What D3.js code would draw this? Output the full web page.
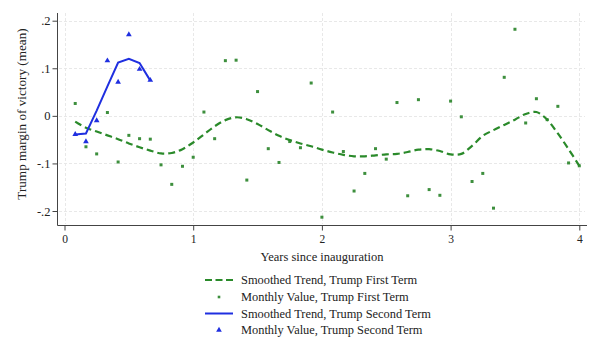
<!DOCTYPE html>
<html><head><meta charset="utf-8">
<script src="https://cdn.jsdelivr.net/npm/d3@7"></script>
<style>body{margin:0;background:#fff} svg text{font-family:"Times New Roman","Liberation Serif","DejaVu Serif",serif !important}</style>
</head><body><svg id="c" width="600" height="360"></svg>
<script>
// months since inauguration (1 month = 1/12 year)
const firstMonths = [1,2,3,4,5,6,7,8,9,10,11,12,13,14,15,16,17,18,19,20,21,22,23,24,25,26,27,28,29,30,31,32,33,34,35,36,37,38,39,40,41,42,43,44,45,46,47,48];
const firstValues = [0.026,-0.065,-0.080,0.007,-0.097,-0.041,-0.048,-0.049,-0.103,-0.144,-0.106,-0.087,0.008,-0.048,0.116,0.117,-0.135,0.051,-0.069,-0.098,-0.054,-0.067,0.069,-0.213,0.008,-0.075,-0.158,-0.121,-0.069,-0.091,0.028,-0.168,0.034,-0.155,-0.167,0.031,-0.002,-0.138,-0.121,-0.194,0.081,0.182,-0.015,0.036,-0.008,0.020,-0.099,-0.105];
const firstTrend = [-0.012,-0.025,-0.033,-0.041,-0.049,-0.058,-0.066,-0.073,-0.079,-0.078,-0.070,-0.056,-0.039,-0.022,-0.009,-0.003,-0.007,-0.017,-0.030,-0.042,-0.051,-0.058,-0.064,-0.071,-0.077,-0.082,-0.085,-0.085,-0.083,-0.081,-0.080,-0.076,-0.071,-0.070,-0.074,-0.081,-0.080,-0.063,-0.042,-0.030,-0.019,-0.008,0.004,0.008,-0.008,-0.037,-0.070,-0.105];
const secondMonths = [1,2,3,4,5,6,7,8];
const secondValues = [-0.039,-0.054,-0.010,0.116,0.071,0.171,0.098,0.075];
const secondTrend = [-0.039,-0.037,0.011,0.062,0.112,0.120,0.111,0.074];
const xTickMonths = [0,12,24,36,48];
const xTickLabels = ["0","1","2","3","4"];
const yTicks = [-0.2,-0.1,0,0.1,0.2];
const yTickLabels = ["-.2","-.1","0",".1",".2"];
const legendLabels = ["Smoothed Trend, Trump First Term","Monthly Value, Trump First Term","Smoothed Trend, Trump Second Term","Monthly Value, Trump Second Term"];

const green = "#2a8a2a", blue = "#1f2fe0", ptGreen = "#3d8f3d";
const svg = d3.select("#c");
const x = d3.scaleLinear().domain([0,48]).range([64.5,579.3]);
const y = d3.scaleLinear().domain([-0.2,0.2]).range([211,20.7]);

// grid
const grid = svg.append("g").attr("stroke","#e8e8e8").attr("stroke-width",1).attr("stroke-dasharray","3,2");
grid.selectAll("line.h").data(yTicks).join("line").attr("x1",59).attr("x2",585)
  .attr("y1",d=>Math.round(y(d))+0.5).attr("y2",d=>Math.round(y(d))+0.5);
grid.selectAll("line.v").data(xTickMonths).join("line").attr("y1",13).attr("y2",224)
  .attr("x1",d=>Math.round(x(d))+0.5).attr("x2",d=>Math.round(x(d))+0.5);

// axes
const yAxis = d3.axisLeft(y).tickValues(yTicks).tickFormat((d,i)=>yTickLabels[i]).tickSize(5).tickSizeOuter(0);
const gy = svg.append("g").attr("transform","translate(57.5,0)").call(yAxis);
gy.attr("font-family",null);
gy.select(".domain").attr("d","M0,13V225.5").attr("stroke","#444");
gy.selectAll(".tick line").attr("stroke","#444");
gy.selectAll("text").attr("font-size",12.5).attr("fill","#222").attr("x",-7);

const xAxis = d3.axisBottom(x).tickValues(xTickMonths).tickFormat((d,i)=>xTickLabels[i]).tickSize(5).tickSizeOuter(0);
const gx = svg.append("g").attr("transform","translate(0,225.5)").call(xAxis);
gx.attr("font-family",null);
gx.select(".domain").attr("d","M57.5,0H587").attr("stroke","#444");
gx.selectAll(".tick line").attr("stroke","#444");
gx.selectAll("text").attr("font-size",11.5).attr("fill","#222").attr("y",9);

svg.append("text").attr("x",322).attr("y",261).attr("text-anchor","middle").attr("font-size",12.5).attr("fill","#222").text("Years since inauguration");
svg.append("text").attr("transform","translate(26,114) rotate(-90)").attr("text-anchor","middle").attr("font-size",13.2).attr("fill","#222").text("Trump margin of victory (mean)");

const line = d3.line().curve(d3.curveCatmullRom.alpha(0.5));
// first term
svg.append("g").selectAll("rect").data(firstMonths).join("rect")
  .attr("x",(d,i)=>x(d)-1.5).attr("y",(d,i)=>y(firstValues[i])-1.5).attr("width",3).attr("height",3)
  .attr("fill",ptGreen);
svg.append("path").attr("d",line(firstMonths.map((m,i)=>[x(m),y(firstTrend[i])])))
  .attr("fill","none").attr("stroke",green).attr("stroke-width",2.2).attr("stroke-dasharray","7,4");
// second term
const tri = d3.symbol().type(d3.symbolTriangle).size(14);
svg.append("g").selectAll("path").data(secondMonths).join("path")
  .attr("d",tri).attr("transform",(d,i)=>`translate(${x(d)},${y(secondValues[i])})`).attr("fill",blue);
svg.append("path").attr("d",d3.line()(secondMonths.map((m,i)=>[x(m),y(secondTrend[i])])))
  .attr("fill","none").attr("stroke",blue).attr("stroke-width",2);

// legend
const lg = svg.append("g");
const rows = [280,297,313.5,330];
rows.forEach((ry,i)=>{
  if(i===0) lg.append("line").attr("x1",205).attr("x2",233).attr("y1",ry).attr("y2",ry).attr("stroke",green).attr("stroke-width",2.2).attr("stroke-dasharray","7,3.5");
  if(i===1) lg.append("rect").attr("x",219-1.3).attr("y",ry-1.3).attr("width",2.6).attr("height",2.6).attr("fill",ptGreen);
  if(i===2) lg.append("line").attr("x1",205).attr("x2",233).attr("y1",ry).attr("y2",ry).attr("stroke",blue).attr("stroke-width",2);
  if(i===3) lg.append("path").attr("d",tri).attr("transform",`translate(219,${ry})`).attr("fill",blue);
  lg.append("text").attr("x",241).attr("y",ry).attr("dy","0.35em").attr("font-size",12.4).attr("fill","#222").text(legendLabels[i]);
});
</script></body></html>
